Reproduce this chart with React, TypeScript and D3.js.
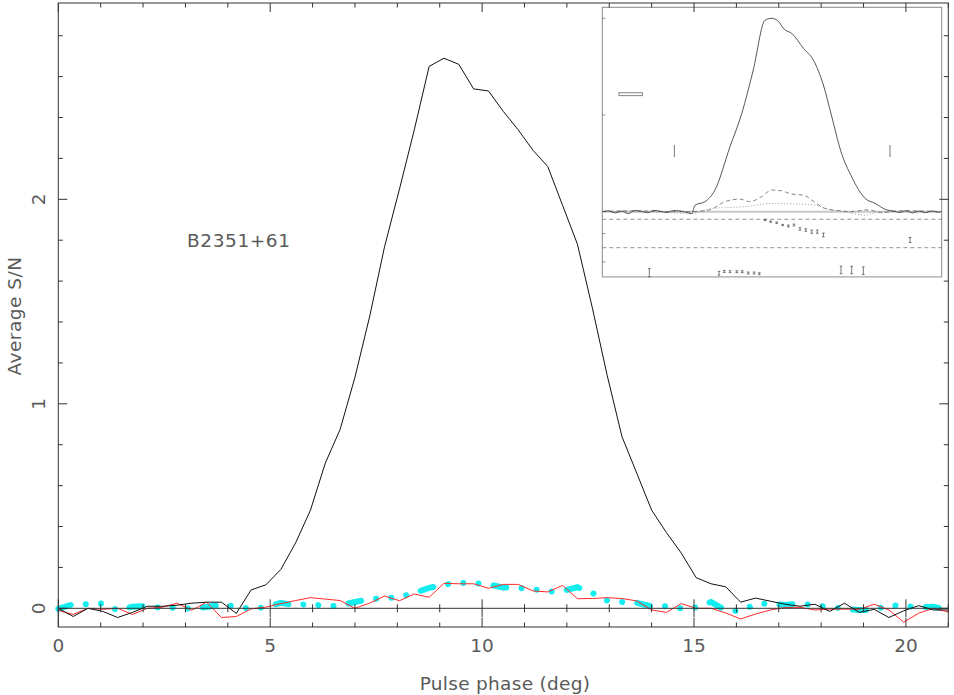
import React from 'react';
import * as d3 from 'd3';

const W = 954;
const H = 695;

// ---- main data (bins of 0.35 deg) ----
const binWidth = 0.35;
const totalSN = [
  0.0, -0.04, 0.0, -0.015, -0.045, -0.02, 0.01, 0.01, 0.015, 0.025,
  0.03, 0.03, -0.025, 0.09, 0.115, 0.19, 0.32, 0.48, 0.71, 0.875,
  1.13, 1.43, 1.77, 2.05, 2.34, 2.65, 2.69, 2.66, 2.54, 2.53,
  2.43, 2.34, 2.24, 2.16, 1.97, 1.78, 1.47, 1.14, 0.84, 0.66,
  0.48, 0.37, 0.27, 0.15, 0.12, 0.105, 0.03, 0.05, 0.035, 0.02,
  0.01, 0.02, -0.015, 0.025, -0.02, -0.005, -0.045, -0.012, 0.013, -0.008,
  -0.008,
];
const redSN = [
  -0.01, -0.03, 0.0, -0.005, 0.0, -0.03, 0.0, 0.005, 0.025, -0.01,
  0.03, -0.045, -0.04, -0.003, 0.006, 0.023, 0.038, 0.052, 0.045, 0.038,
  0.0, 0.026, 0.06, 0.037, 0.07, 0.054, 0.122, 0.12, 0.12, 0.098,
  0.117, 0.117, 0.085, 0.08, 0.112, 0.047, 0.048, 0.052, 0.048, 0.036,
  -0.008, -0.02, 0.023, 0.0, 0.0, -0.023, -0.052, -0.028, -0.008, 0.004,
  0.005, -0.008, -0.004, -0.004, -0.005, 0.02, -0.008, -0.068, -0.024, 0.0,
  -0.018,
];
const cyanSN = [
  -0.003, 0.02, 0.02, 0.024, -0.01, 0.008, 0.011, 0.001, 0.004, -0.003,
  0.006, 0.018, 0.009, -0.003, 0.006, 0.027, 0.014, 0.023, 0.009, 0.014,
  0.031, 0.045, 0.049, 0.055, 0.075, 0.1, 0.116, 0.124, 0.124, 0.116,
  0.102, 0.1, 0.094, 0.082, 0.085, 0.103, 0.075, 0.038, 0.031, 0.027,
  0.009, 0.01, -0.001, 0.004, 0.031, -0.01, -0.013, 0.02, 0.024, 0.016,
  0.024, 0.013, 0.008, -0.003, -0.008, -0.008, 0.016, 0.011, 0.005, 0.008,
  -0.008,
];
const xMajorTicks = [0, 5, 10, 15, 20];
const xMinorTicks = d3.range(0, 22, 1);
const yMajorTicks = [0, 1, 2];
const yMinorTicks = d3.range(0, 15).map((i) => +(i * 0.2).toFixed(1));
const sourceName = 'B2351+61';
const xLabel = 'Pulse phase (deg)';
const yLabel = 'Average S/N';

// ---- inset data ----
const insetIPhase = [
  0, 0.4, 0.8, 1.2, 1.6, 2.0, 2.4, 2.8, 3.2, 3.6, 4.0, 4.4, 4.8, 5.2, 5.53,
  5.74, 6.36, 6.97, 7.9, 8.63, 9.34, 10.07, 10.48, 10.85, 11.26, 11.72, 12.44,
  13.06, 13.68, 14.2, 14.77, 15.43, 16.26, 16.88, 17.6, 18.0, 18.4, 18.8, 19.2,
  19.6, 20.0, 20.4, 20.8, 21,
];
const insetIVal = [
  0, 0.004, -0.006, 0.003, -0.01, 0.006, 0.002, -0.005, 0.007, 0.002, -0.004,
  0.006, 0.004, -0.003, -0.01, 0.034, 0.052, 0.112, 0.336, 0.508, 0.733, 0.99,
  1.0, 0.988, 0.943, 0.922, 0.845, 0.784, 0.655, 0.491, 0.31, 0.18, 0.069,
  0.043, 0.009, 0.004, -0.004, 0.005, -0.006, 0.003, -0.005, 0.004, -0.003, 0,
];
const insetLPhase = [
  0, 2, 4, 5.53, 6.66, 7.59, 8.51, 9.13, 9.86, 10.48, 11.1, 11.72, 12.44, 12.96,
  13.78, 14.7, 15.3, 16.5, 17.2, 18.5, 21,
];
const insetLVal = [
  0, 0.005, 0, 0, 0.01, 0.052, 0.065, 0.052, 0.078, 0.112, 0.108, 0.091, 0.086,
  0.06, 0.017, 0.005, 0, 0.01, -0.005, 0.005, 0,
];
const insetVPhase = [
  0, 1, 3, 5.5, 6.05, 6.77, 8.83, 10.48, 11.92, 13.16, 13.99, 15.03, 16.26,
  17.18, 21,
];
const insetVVal = [
  0.01, 0, 0, -0.01, 0, 0.017, 0.026, 0.043, 0.04, 0.035, 0.012, 0, -0.018, 0, 0,
];
const paPhase = [
  10.07, 10.42, 10.79, 11.16, 11.51, 11.86, 12.23, 12.59, 12.96, 13.3, 13.68,
  19.04, 2.91, 7.22, 7.55, 7.9, 8.32, 8.66, 9.03, 9.39, 9.72, 14.77, 15.43, 16.15,
];
const paVal = [
  87.8, 82.4, 79.2, 71.9, 68.8, 71.9, 59.3, 56.1, 50.7, 50.7, 40.2, 24.4, -79.2,
  -81.1, -75.4, -76, -76, -76, -80.2, -80.2, -82.4, -70.7, -70.7, -72.9,
];
const paErr = [
  2, 2, 2, 2, 3, 3, 4, 4, 5, 5, 6, 8, 13, 6, 3, 3, 3, 3, 3, 3, 3, 12, 12, 12,
];
const insetWindow = [4.46, 17.8];
const insetBoxPhase = [1.03, 2.48];
const insetBoxVal = [0.6, 0.615];
const insetRefLines = [90, 0];
const insetITicks = [0.5, 1.0];
const insetPATicks = [45, -45];

const FONT = '"DejaVu Sans", sans-serif';
const TXT = '#5a5a5a';
const AX = '#333';

export default function App() {
  const x = d3.scaleLinear().domain([0, 21]).range([58.3, 948.3]);
  const y = d3.scaleLinear().domain([-0.0914, 2.96]).range([627, 3]);
  const phases = totalSN.map((_, i) => i * binWidth);

  const line = d3
    .line<number>()
    .x((_, i) => x(phases[i]))
    .y((d) => y(d));

  // inset scales
  const ix = d3.scaleLinear().domain([0, 21]).range([602.3, 941.7]);
  const iy = d3.scaleLinear().domain([0, 1]).range([211.7, 18.3]);
  const ipa = d3.scaleLinear().domain([-90, 90]).range([276.1, 219.3]);
  const iline = (ph: number[]) =>
    d3
      .line<number>()
      .x((_, i) => ix(ph[i]))
      .y((d) => iy(d))
      .curve(d3.curveMonotoneX);

  const [x0, x1] = x.range();
  const yTop = 3;
  const yBot = 627;
  const xRight = x1;

  return (
    <svg
      width={W}
      height={H}
      viewBox={`0 0 ${W} ${H}`}
      style={{ position: 'absolute', left: 0, top: 0, background: '#fff' }}
    >
      <rect x={0} y={0} width={W} height={H} fill="#fff" />

      {/* inset */}
      <g>
        <rect x={602.3} y={7.3} width={339.4} height={269.4} fill="#fff" stroke="#888" strokeWidth={1} />
        <line x1={602.3} x2={941.7} y1={iy(0)} y2={iy(0)} stroke="#c8c8c8" strokeWidth={2} />
        {insetRefLines.map((v) => (
          <line key={v} x1={602.3} x2={941.7} y1={ipa(v)} y2={ipa(v)} stroke="#777" strokeWidth={0.8} strokeDasharray="4 3" />
        ))}
        <line x1={602.3} x2={941.7} y1={276.7} y2={276.7} stroke="#bbb" strokeWidth={1.5} />
        <path d={iline(insetVPhase)(insetVVal) || ''} fill="none" stroke="#888" strokeWidth={0.8} strokeDasharray="1 2" />
        <path d={iline(insetLPhase)(insetLVal) || ''} fill="none" stroke="#666" strokeWidth={0.8} strokeDasharray="4 3" />
        <path d={iline(insetIPhase)(insetIVal) || ''} fill="none" stroke="#444" strokeWidth={0.9} />
        {insetITicks.map((v) => (
          <line key={v} x1={602.3} x2={605.3} y1={iy(v)} y2={iy(v)} stroke="#777" strokeWidth={0.8} />
        ))}
        {insetPATicks.map((v) => (
          <line key={v} x1={602.3} x2={605.3} y1={ipa(v)} y2={ipa(v)} stroke="#777" strokeWidth={0.8} />
        ))}
        {insetWindow.map((p) => (
          <line key={p} x1={ix(p)} x2={ix(p)} y1={145} y2={157} stroke="#666" strokeWidth={0.9} />
        ))}
        <rect
          x={ix(insetBoxPhase[0])}
          y={iy(insetBoxVal[1])}
          width={ix(insetBoxPhase[1]) - ix(insetBoxPhase[0])}
          height={iy(insetBoxVal[0]) - iy(insetBoxVal[1])}
          fill="none"
          stroke="#777"
          strokeWidth={0.9}
        />
        {paPhase.map((p, i) => {
          const cx = ix(p);
          const ya = ipa(paVal[i] + paErr[i]);
          const yb = ipa(paVal[i] - paErr[i]);
          return (
            <g key={i} stroke="#555" strokeWidth={0.8}>
              <line x1={cx} x2={cx} y1={ya} y2={yb} />
              <line x1={cx - 1.3} x2={cx + 1.3} y1={ya} y2={ya} />
              <line x1={cx - 1.3} x2={cx + 1.3} y1={yb} y2={yb} />
            </g>
          );
        })}
      </g>

      {/* data */}
      <path
        d={line(cyanSN) || ''}
        fill="none"
        stroke="#12eef0"
        strokeWidth={6}
        strokeLinecap="round"
        strokeDasharray="13 15.2 0.01 15.2 0.01 15.2 0.01 15.2"
      />
      <path d={line(redSN) || ''} fill="none" stroke="#ff2a2a" strokeWidth={1} />
      <path d={line(totalSN) || ''} fill="none" stroke="#111" strokeWidth={1} />

      {/* zero line with ticks */}
      <line x1={x0} x2={xRight} y1={y(0)} y2={y(0)} stroke={AX} strokeWidth={1} />
      {xMinorTicks.map((t) => {
        const maj = xMajorTicks.includes(t);
        const l = maj ? 9 : 4;
        return <line key={'z' + t} x1={x(t)} x2={x(t)} y1={y(0) - l} y2={y(0) + l} stroke={AX} strokeWidth={1} />;
      })}

      {/* frame */}
      <rect x={x0} y={yTop} width={xRight - x0} height={yBot - yTop} fill="none" stroke={AX} strokeWidth={1} />
      {xMinorTicks.map((t) => {
        const l = xMajorTicks.includes(t) ? 9 : 4.5;
        return (
          <g key={'x' + t} stroke={AX} strokeWidth={1}>
            <line x1={x(t)} x2={x(t)} y1={yBot} y2={yBot - l} />
            <line x1={x(t)} x2={x(t)} y1={yTop} y2={yTop + l} />
          </g>
        );
      })}
      {yMinorTicks.map((t) => {
        const l = yMajorTicks.includes(t) ? 9 : 4.5;
        return (
          <g key={'y' + t} stroke={AX} strokeWidth={1}>
            <line x1={x0} x2={x0 + l} y1={y(t)} y2={y(t)} />
            <line x1={xRight} x2={xRight - l} y1={y(t)} y2={y(t)} />
          </g>
        );
      })}

      {/* labels */}
      <g fontFamily={FONT} fontSize={18.5} fill={TXT}>
        {xMajorTicks.map((t) => (
          <text key={'xl' + t} x={x(t)} y={652} textAnchor="middle">
            {t}
          </text>
        ))}
        {yMajorTicks.map((t) => (
          <text key={'yl' + t} transform={`translate(45,${y(t)}) rotate(-90)`} textAnchor="middle">
            {t}
          </text>
        ))}
        <text x={505} y={690} textAnchor="middle" letterSpacing={0.3}>
          {xLabel}
        </text>
        <text transform={`translate(21,316) rotate(-90)`} textAnchor="middle" letterSpacing={0.5}>
          {yLabel}
        </text>
        <text x={187} y={247} letterSpacing={0.6}>
          {sourceName}
        </text>
      </g>
    </svg>
  );
}
